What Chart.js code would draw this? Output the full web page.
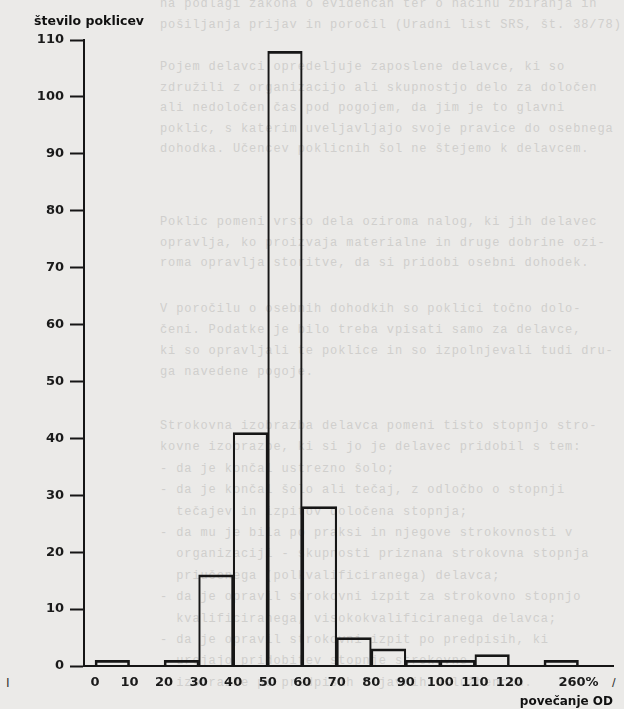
<!DOCTYPE html>
<html>
<head>
<meta charset="utf-8">
<script src="https://cdn.jsdelivr.net/npm/chart.js@4.4.1/dist/chart.umd.min.js"></script>
<style>
  html, body { margin: 0; padding: 0; }
  body { width: 624px; height: 709px; overflow: hidden; background: #ebeae8; position: relative; }
  /* prosojno besedilo z druge strani (skeniran list) */
  .ozadje { position: absolute; left: 160px; width: 470px; font-family: "Liberation Mono", monospace;
            font-size: 12px; letter-spacing: 0.9px; color: #d0cfcd; white-space: pre; overflow: hidden; }
  .sled { position: absolute; font-family: "Liberation Sans", sans-serif; font-size: 13px; color: #333; }
  #graf { position: absolute; left: 0; top: 0; }
</style>
</head>
<body>
<div class="ozadje" style="top:-6px; line-height:20.6px;">na podlagi zakona o evidencah ter o načinu zbiranja in
pošiljanja prijav in poročil (Uradni list SRS, št. 38/78).</div>
<div class="ozadje" style="top:57px; line-height:20.6px;">Pojem delavci opredeljuje zaposlene delavce, ki so
združili z organizacijo ali skupnostjo delo za določen
ali nedoločen čas pod pogojem, da jim je to glavni
poklic, s katerim uveljavljajo svoje pravice do osebnega
dohodka. Učencev poklicnih šol ne štejemo k delavcem.</div>
<div class="ozadje" style="top:212px; line-height:20.6px;">Poklic pomeni vrsto dela oziroma nalog, ki jih delavec
opravlja, ko proizvaja materialne in druge dobrine ozi-
roma opravlja storitve, da si pridobi osebni dohodek.</div>
<div class="ozadje" style="top:299px; line-height:20.9px;">V poročilu o osebnih dohodkih so poklici točno dolo-
čeni. Podatke je bilo treba vpisati samo za delavce,
ki so opravljali te poklice in so izpolnjevali tudi dru-
ga navedene pogoje.</div>
<div class="ozadje" style="top:416px; line-height:21.4px;">Strokovna izobrazba delavca pomeni tisto stopnjo stro-
kovne izobrazbe, ki si jo je delavec pridobil s tem:
- da je končal ustrezno šolo;
- da je končal šolo ali tečaj, z odločbo o stopnji
  tečajev in izpitov določena stopnja;
- da mu je bila po praksi in njegove strokovnosti v
  organizaciji - skupnosti priznana strokovna stopnja
  priučenega (polkvalificiranega) delavca;
- da je opravil strokovni izpit za strokovno stopnjo
  kvalificiranega, visokokvalificiranega delavca;
- da je opravil strokovni izpit po predpisih, ki
  urejajo pridobitev stopnje strokovne
  izobrazbe po predpisih o javnih uslužbencih.</div>
<div class="sled" style="left:6px; top:675px;">I</div>
<div class="sled" style="left:612px; top:675px;">/</div>

<canvas id="graf" width="624" height="709"></canvas>

<script>
// razredi povečanja OD (%) - en razred na razdelek osi; razdelek 12 je prelom osi (120-250)
const razredi = ['0-10', '10-20', '20-30', '30-40', '40-50', '50-60', '60-70',
                 '70-80', '80-90', '90-100', '100-110', '110-120', '120-250', '250-260'];
const steviloPoklicev = [1, 0, 1, 16, 41, 108, 28, 5, 3, 1, 1, 2, null, 1];

// oznake na robovih razredov
const oznakeX = ['0', '10', '20', '30', '40', '50', '60', '70', '80', '90', '100', '110', '120', '', '260%'];
const yMax = 110;
const yKorak = 10;

const crna = '#161616';
const pisava = { family: 'DejaVu Sans', size: 13, weight: 'bold' };

const tocke = [];
steviloPoklicev.forEach((v, i) => {
  if (v) tocke.push({ x: i + 0.5, y: v, razred: razredi[i] });
});

function imaSoseda(i) {
  return i >= 0 && i < steviloPoklicev.length && steviloPoklicev[i] > 0;
}

new Chart(document.getElementById('graf'), {
  type: 'bar',
  data: {
    datasets: [{
      label: 'število poklicev',
      data: tocke,
      backgroundColor: 'rgba(0,0,0,0)',
      borderColor: crna,
      borderWidth: ctx => {
        const i = Math.round(ctx.raw.x - 0.5);
        return {
          top: 2,
          left: imaSoseda(i - 1) ? 1.5 : 2,
          right: imaSoseda(i + 1) ? 1.5 : 2,
          bottom: 0
        };
      },
      borderSkipped: 'start',
      barPercentage: 1,
      categoryPercentage: 1
    }]
  },
  options: {
    responsive: false,
    animation: false,
    devicePixelRatio: 1,
    layout: { padding: { left: 34, right: 11, top: 0, bottom: 0 } },
    plugins: {
      legend: { display: false },
      tooltip: { enabled: false },
      title: {
        display: true,
        text: 'število poklicev',
        align: 'start',
        color: '#111',
        font: { family: 'DejaVu Sans', size: 12.5, weight: 'bold' },
        padding: { top: 14, bottom: 11 }
      }
    },
    scales: {
      x: {
        type: 'linear',
        offset: false,
        min: -0.32,
        max: 15,
        afterBuildTicks: axis => {
          axis.ticks = oznakeX.map((t, i) => ({ value: i })).filter(t => oznakeX[t.value] !== '');
        },
        afterFit: axis => { axis.height = 43; },
        ticks: {
          autoSkip: false,
          maxRotation: 0,
          padding: 9,
          color: '#1a1a1a',
          font: pisava,
          callback: v => oznakeX[v]
        },
        grid: { display: true, drawOnChartArea: false, drawTicks: false },
        border: { display: true, color: crna, width: 2 },
        title: {
          display: true,
          text: 'povečanje OD',
          align: 'end',
          color: '#111',
          font: { family: 'DejaVu Sans', size: 12, weight: 'bold' },
          padding: { top: 3, bottom: 0 }
        }
      },
      y: {
        min: 0,
        max: yMax,
        afterFit: axis => { axis.width = 50; },
        ticks: {
          stepSize: yKorak,
          padding: 6,
          color: '#1a1a1a',
          font: pisava
        },
        grid: {
          display: true,
          drawOnChartArea: false,
          drawTicks: true,
          tickLength: 14,
          tickWidth: 2,
          tickColor: crna
        },
        border: { display: true, color: crna, width: 2 }
      }
    }
  }
});
</script>
</body>
</html>
